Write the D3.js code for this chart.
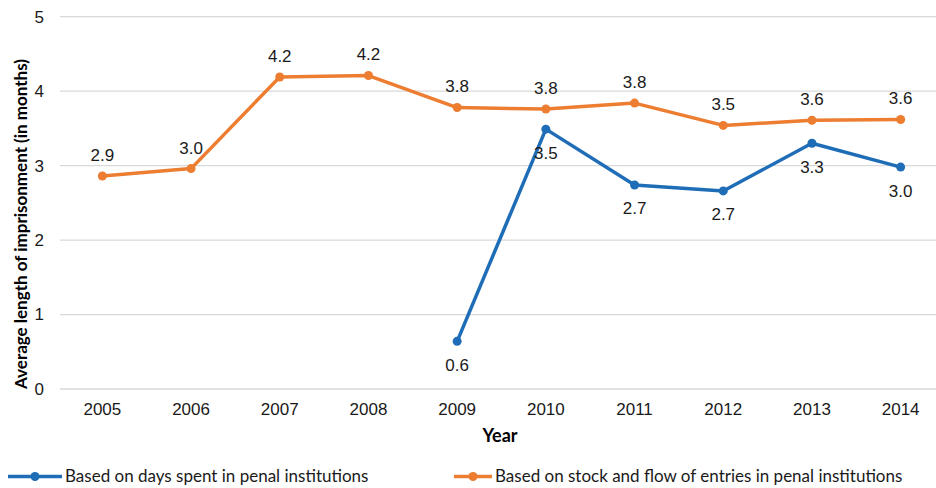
<!DOCTYPE html>
<html>
<head>
<meta charset="utf-8">
<style>
  body { margin: 0; background: #fff; }
  svg text { font-family: "Liberation Sans", Arial, sans-serif; }
</style>
</head>
<body>
<script src="https://cdn.jsdelivr.net/npm/d3@7/dist/d3.min.js"></script>
<script>
var years = ["2005", "2006", "2007", "2008", "2009", "2010", "2011", "2012", "2013", "2014"];
// null = no data for that year
var daysSpent = [null, null, null, null, 0.64, 3.49, 2.74, 2.66, 3.30, 2.98];
var stockFlow = [2.86, 2.96, 4.19, 4.21, 3.78, 3.76, 3.84, 3.54, 3.61, 3.62];
var yTicks = [0, 1, 2, 3, 4, 5];
var seriesNames = ["Based on days spent in penal institutions", "Based on stock and flow of entries in penal institutions"];

var width = 936, height = 488;
var blue = "#1f6db6", orange = "#ed7d31";

var svg = d3.select("body").append("svg")
    .attr("width", width)
    .attr("height", height);

var x = d3.scaleBand().domain(years).range([58, 945]);
var y = d3.scaleLinear().domain([0, 5]).range([389, 16.7]);

// gridlines
svg.append("g").selectAll("line")
    .data(yTicks)
    .enter().append("line")
    .attr("x1", 60).attr("x2", width)
    .attr("y1", d => y(d)).attr("y2", d => y(d))
    .style("stroke", "#d9d9d9")
    .style("stroke-width", 1.3);

// y axis labels
svg.append("g").selectAll("text")
    .data(yTicks)
    .enter().append("text")
    .attr("x", 44)
    .attr("y", d => y(d))
    .attr("dy", "0.35em")
    .attr("text-anchor", "end")
    .style("font-size", "17px")
    .style("fill", "#1a1a1a")
    .text(d => d);

// x axis labels
svg.append("g").selectAll("text")
    .data(years)
    .enter().append("text")
    .attr("x", d => x(d) + x.bandwidth() / 2)
    .attr("y", 409)
    .attr("dy", "0.35em")
    .attr("text-anchor", "middle")
    .style("font-size", "17px")
    .style("fill", "#1a1a1a")
    .text(d => d);

// axis titles
svg.append("text")
    .attr("x", 500).attr("y", 442)
    .attr("text-anchor", "middle")
    .style("font-family", "Lato, 'Open Sans', sans-serif")
    .style("font-weight", "bold")
    .style("font-size", "18px")
    .text("Year");

svg.append("text")
    .attr("transform", "translate(27,224) rotate(-90)")
    .attr("text-anchor", "middle")
    .style("font-family", "Lato, 'Open Sans', sans-serif")
    .style("font-weight", "bold")
    .style("font-size", "17px")
    .text("Average length of imprisonment (in months)");

var cx = d => x(d.year) + x.bandwidth() / 2;

function drawSeries(values, color, labelBelow) {
    var pts = years.map((yr, i) => ({ year: yr, v: values[i] })).filter(d => d.v != null);
    var line = d3.line().x(cx).y(d => y(d.v));
    svg.append("path")
        .datum(pts)
        .attr("d", line)
        .style("fill", "none")
        .style("stroke", color)
        .style("stroke-width", 3.5)
        .style("stroke-linejoin", "round");
    svg.append("g").selectAll("circle")
        .data(pts)
        .enter().append("circle")
        .attr("cx", cx)
        .attr("cy", d => y(d.v))
        .attr("r", 4.5)
        .style("fill", color);
    svg.append("g").selectAll("text")
        .data(pts)
        .enter().append("text")
        .attr("x", cx)
        .attr("y", d => labelBelow ? y(d.v) + 23.5 : y(d.v) - 21)
        .attr("dy", "0.35em")
        .attr("text-anchor", "middle")
        .style("font-size", "17px")
        .style("fill", "#1a1a1a")
        .text(d => d.v.toFixed(1));
}

drawSeries(stockFlow, orange, false);
drawSeries(daysSpent, blue, true);

// legend
var legend = [
    { name: seriesNames[0], color: blue, x0: 8, x1: 62 },
    { name: seriesNames[1], color: orange, x0: 454, x1: 492 }
];
var lg = svg.append("g").selectAll("g")
    .data(legend)
    .enter().append("g");
lg.append("line")
    .attr("x1", d => d.x0).attr("x2", d => d.x1)
    .attr("y1", 476.5).attr("y2", 476.5)
    .style("stroke", d => d.color)
    .style("stroke-width", 3.5);
lg.append("circle")
    .attr("cx", d => (d.x0 + d.x1) / 2)
    .attr("cy", 476.5)
    .attr("r", 4.5)
    .style("fill", d => d.color);
lg.append("text")
    .attr("x", d => d.x1 + 3)
    .attr("y", 476.5)
    .attr("dy", "0.35em")
    .style("font-family", "Lato, 'Open Sans', sans-serif")
    .style("font-size", "17px")
    .style("fill", "#1a1a1a")
    .text(d => d.name);
</script>
</body>
</html>
